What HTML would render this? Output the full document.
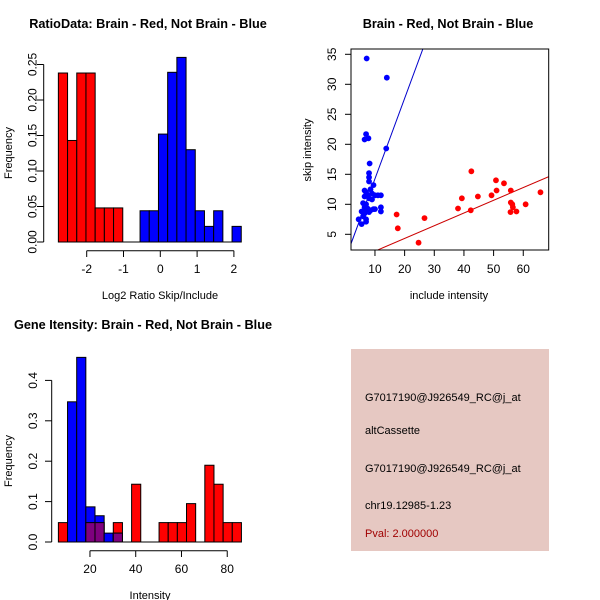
<!DOCTYPE html>
<html><head><meta charset="utf-8"><style>
html,body{margin:0;padding:0;background:#fff}
svg{display:block;font-family:"Liberation Sans",Arial,sans-serif}
</style></head><body>
<svg id="s" width="600" height="600" viewBox="0 0 600 600" xmlns="http://www.w3.org/2000/svg">
<text x="148" y="28" text-anchor="middle" font-size="12.7" font-weight="bold">RatioData: Brain - Red, Not Brain - Blue</text>
<text x="448" y="28" text-anchor="middle" font-size="12.7" font-weight="bold">Brain - Red, Not Brain - Blue</text>
<text x="143" y="329" text-anchor="middle" font-size="12.7" font-weight="bold">Gene Itensity: Brain - Red, Not Brain - Blue</text>
<text x="160" y="299" text-anchor="middle" font-size="11">Log2 Ratio Skip/Include</text>
<text transform="translate(12,153) rotate(-90)" text-anchor="middle" font-size="11">Frequency</text>
<text x="449" y="299" text-anchor="middle" font-size="11">include intensity</text>
<text transform="translate(311,150) rotate(-90)" text-anchor="middle" font-size="11">skip intensity</text>
<text x="150" y="599" text-anchor="middle" font-size="11">Intensity</text>
<text transform="translate(12,461) rotate(-90)" text-anchor="middle" font-size="11">Frequency</text>
<rect x="351" y="349" width="198" height="202" fill="#e6c8c2"/>
<text x="365" y="401" font-size="11">G7017190@J926549_RC@j_at</text>
<text x="365" y="434" font-size="11">altCassette</text>
<text x="365" y="472" font-size="11">G7017190@J926549_RC@j_at</text>
<text x="365" y="509" font-size="11">chr19.12985-1.23</text>
<text x="365" y="537" font-size="11" fill="#a00000">Pval: 2.000000</text>
</svg>
<script>
// ---- Ratio histogram data ----
const ratioRedStart = -2.77, ratioBlueStart = -0.55, ratioBinW = 0.25;
const ratioRed = [0.238,0.143,0.238,0.238,0.048,0.048,0.048];
const ratioBlue = [0.044,0.044,0.152,0.239,0.26,0.13,0.044,0.022,0.044,0,0.022];
const ratioXTicks = [-2,-1,0,1,2];
const ratioYTicks = ["0.00","0.05","0.10","0.15","0.20","0.25"];
// ---- Scatter data ----
const blueX = [7.2,14,13.8,7,6.5,7.8,8.2,8,8,8,9.5,6.5,8.5,7,6.5,7.5,9,10,11,12,8,9,6,7,6.5,7.5,8.5,9.5,10,12,12,5.5,6.5,8,7,7,4.5,5.5,6,7];
const blueY = [34.3,31.1,19.3,21.7,20.8,21,16.8,15.2,14.5,13.8,13.2,12.3,12.5,12,11.3,11.5,11.8,11.5,11.5,11.5,11,10.8,10.2,10,9.5,9.3,9,9.2,9.2,9.5,8.8,8.8,8.5,8.7,7.5,7.1,7.5,6.7,8,9];
const redX = [42.5,50.8,53.5,51,55.8,49.3,44.7,39.3,38,42.3,65.8,55.8,56.3,56.5,60.8,55.7,57.7,17.3,26.7,17.7,24.7];
const redY = [15.5,14,13.5,12.3,12.3,11.5,11.3,11,9.3,9,12,10.3,10,9.5,10,8.7,8.8,8.3,7.7,6,3.6];
const blueFit = [0.85,1.34], redFit = [0.07,0.212];
const scXTicks = [10,20,30,40,50,60], scYTicks = [5,10,15,20,25,30,35];
// ---- Gene histogram data ----
const geneStart = 6.2, geneBinW = 4.0;
const geneRed = [0.048,0,0,0.048,0.048,0,0.048,0,0.143,0,0,0.048,0.048,0.048,0.095,0,0.19,0.143,0.048,0.048];
const geneBlue = [0,0.347,0.457,0.087,0.065,0.022,0.022,0,0,0,0,0,0,0,0,0,0,0,0,0];
const geneXTicks = [20,40,60,80], geneYTicks = ["0.0","0.1","0.2","0.3","0.4"];

const S = document.getElementById('s'), NS = 'http://www.w3.org/2000/svg';
function mk(t, a){const e=document.createElementNS(NS,t);for(const k in a)e.setAttribute(k,a[k]);S.appendChild(e);return e;}

// Ratio histogram
const rx = v => 160.3 + v*36.8, ry = v => 242 - v*710;
function rbars(start, vals, col, nm){
  vals.forEach((v,i)=>{ if(!v) return;
    const x0=rx(start+i*ratioBinW), x1=rx(start+(i+1)*ratioBinW);
    const e=mk('rect',{x:x0,y:ry(v),width:x1-x0,height:ry(0)-ry(v),fill:col,stroke:'#000','stroke-width':1});
    
    
  });
}
rbars(ratioRedStart, ratioRed, '#ff0000', 'ratio-red');
rbars(ratioBlueStart, ratioBlue, '#0000ff', 'ratio-blue');
mk('line',{x1:rx(-2.77),x2:rx(2.2),y1:242,y2:242,stroke:'#000'});
mk('line',{x1:43.7,x2:43.7,y1:ry(0),y2:ry(0.25),stroke:'#000'});
ratioYTicks.forEach(t=>{const y=ry(+t);mk('line',{x1:37,x2:43.7,y1:y,y2:y,stroke:'#000'});
  const e=mk('text',{transform:`translate(36.5,${y}) rotate(-90)`,'text-anchor':'middle','font-size':12});e.textContent=t;
  });
mk('line',{x1:rx(-2),x2:rx(2),y1:250.7,y2:250.7,stroke:'#000'});
ratioXTicks.forEach(t=>{const x=rx(t);mk('line',{x1:x,x2:x,y1:250.7,y2:257,stroke:'#000'});
  const e=mk('text',{x:x,y:273,'text-anchor':'middle','font-size':12});e.textContent=t;
  });

// Scatter
const sx = v => 345.3 + v*2.966, sy = v => 264.3 - v*6;
const cp=mk('clipPath',{id:'cp'});
const cr=document.createElementNS(NS,'rect');cp.appendChild(cr);
cr.setAttribute('x',351);cr.setAttribute('y',49);cr.setAttribute('width',197.7);cr.setAttribute('height',201);
function fit(f,col,nm){const e=mk('line',{x1:sx(0),y1:sy(f[0]),x2:sx(70),y2:sy(f[0]+f[1]*70),stroke:col,'clip-path':'url(#cp)'});
  }
fit(blueFit,'#0000cc','blue-fit-line'); fit(redFit,'#cc0000','red-fit-line');
blueX.forEach((x,i)=>{const e=mk('circle',{cx:sx(x),cy:sy(blueY[i]),r:2.9,fill:'#0000ff'});
  });
redX.forEach((x,i)=>{const e=mk('circle',{cx:sx(x),cy:sy(redY[i]),r:2.9,fill:'#ff0000'});
  });
mk('rect',{x:351,y:49,width:197.7,height:201,fill:'none',stroke:'#000'});
scXTicks.forEach(t=>{const x=sx(t);mk('line',{x1:x,x2:x,y1:250,y2:256,stroke:'#000'});
  const e=mk('text',{x:x,y:273,'text-anchor':'middle','font-size':12});e.textContent=t;
  });
scYTicks.forEach(t=>{const y=sy(t);mk('line',{x1:345,x2:351,y1:y,y2:y,stroke:'#000'});
  const e=mk('text',{transform:`translate(336,${y}) rotate(-90)`,'text-anchor':'middle','font-size':12});e.textContent=t;
  });

// Gene histogram
const gx = v => 44.2 + v*2.288, gy = v => 542 - v*404;
geneRed.forEach((v,i)=>{ const b=geneBlue[i];
  const x0=gx(geneStart+i*geneBinW), x1=gx(geneStart+(i+1)*geneBinW);
  if(v){const e=mk('rect',{x:x0,y:gy(v),width:x1-x0,height:gy(0)-gy(v),fill:'#ff0000',stroke:'#000'});
    }
  if(b){const e=mk('rect',{x:x0,y:gy(b),width:x1-x0,height:gy(0)-gy(b),fill:'#0000ff',stroke:'#000'});
    }
  const o=Math.min(v,b);
  if(o>0){const e=mk('rect',{x:x0,y:gy(o),width:x1-x0,height:gy(0)-gy(o),fill:'#7f007f',stroke:'#000'});
    }
});
mk('line',{x1:gx(geneStart),x2:gx(geneStart+20*geneBinW),y1:542,y2:542,stroke:'#000'});
mk('line',{x1:51.7,x2:51.7,y1:gy(0),y2:gy(0.4),stroke:'#000'});
geneYTicks.forEach(t=>{const y=gy(+t);mk('line',{x1:45,x2:51.7,y1:y,y2:y,stroke:'#000'});
  const e=mk('text',{transform:`translate(37,${y}) rotate(-90)`,'text-anchor':'middle','font-size':12});e.textContent=t;
  });
mk('line',{x1:gx(20),x2:gx(80),y1:550.7,y2:550.7,stroke:'#000'});
geneXTicks.forEach(t=>{const x=gx(t);mk('line',{x1:x,x2:x,y1:550.7,y2:557,stroke:'#000'});
  const e=mk('text',{x:x,y:573,'text-anchor':'middle','font-size':12});e.textContent=t;
  });
</script>
</body></html>
